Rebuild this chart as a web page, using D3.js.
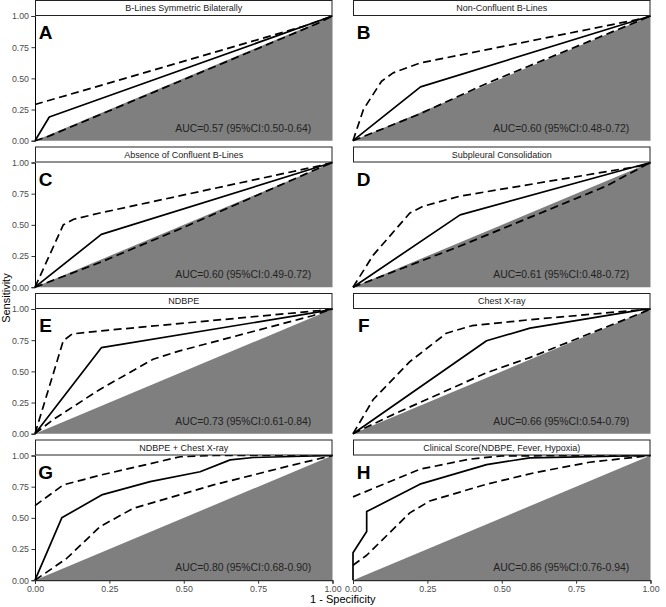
<!DOCTYPE html>
<html>
<head>
<meta charset="utf-8">
<script src="https://cdn.jsdelivr.net/npm/d3@7"></script>
<style>
  html, body { margin: 0; padding: 0; background: #fff; }
  svg { display: block; font-family: "Liberation Sans", Arial, Helvetica, sans-serif; }
</style>
</head>
<body>
<svg id="chart" width="666" height="607"></svg>
<script>
// ---------- data ----------
const panelTitles = [
  "B-Lines Symmetric Bilaterally", "Non-Confluent B-Lines",
  "Absence of Confluent B-Lines", "Subpleural Consolidation",
  "NDBPE", "Chest X-ray",
  "NDBPE + Chest X-ray", "Clinical Score(NDBPE, Fever, Hypoxia)"
];
const panelLetters = ["A", "B", "C", "D", "E", "F", "G", "H"];
const aucLabels = [
  "AUC=0.57 (95%CI:0.50-0.64)", "AUC=0.60 (95%CI:0.48-0.72)",
  "AUC=0.60 (95%CI:0.49-0.72)", "AUC=0.61 (95%CI:0.48-0.72)",
  "AUC=0.73 (95%CI:0.61-0.84)", "AUC=0.66 (95%CI:0.54-0.79)",
  "AUC=0.80 (95%CI:0.68-0.90)", "AUC=0.86 (95%CI:0.76-0.94)"
];
// ROC curves: [1 - specificity, sensitivity]
const rocCurves = [
  [[0,0],[0.048,0.19],[1,1]],
  [[0,0],[0.227,0.432],[1,1]],
  [[0,0],[0.223,0.424],[1,1]],
  [[0,0],[0.36,0.58],[1,1]],
  [[0,0],[0.223,0.69],[0.95,0.975],[1,1]],
  [[0,0],[0.449,0.745],[0.595,0.847],[0.974,0.995],[1,1]],
  [[0,0],[0.09,0.5],[0.224,0.684],[0.387,0.79],[0.555,0.87],[0.656,0.965],[0.734,0.984],[1,1]],
  [[0,0],[0,0.22],[0.046,0.39],[0.046,0.55],[0.225,0.77],[0.449,0.927],[0.594,0.981],[1,1]]
];
const ciUpper = [
  [[0,0.29],[0.9,0.915],[1,1]],
  [[0,0],[0.035,0.25],[0.096,0.477],[0.135,0.544],[0.225,0.623],[0.974,0.98],[1,1]],
  [[0,0],[0.095,0.5],[0.13,0.545],[0.218,0.595],[0.955,0.973],[1,1]],
  [[0,0],[0.068,0.257],[0.191,0.595],[0.236,0.649],[0.359,0.73],[0.985,0.98],[1,1]],
  [[0,0],[0.095,0.745],[0.125,0.8],[0.223,0.825],[0.955,0.987],[1,1]],
  [[0,0],[0.068,0.274],[0.191,0.578],[0.314,0.806],[0.4,0.866],[0.594,0.914],[0.974,0.995],[1,1]],
  [[0,0.598],[0.095,0.764],[0.224,0.845],[0.488,0.99],[0.6,1],[1,1]],
  [[0,0.668],[0.09,0.757],[0.225,0.89],[0.39,0.97],[0.5,0.997],[1,1]]
];
const ciLower = [
  [[0,0],[0.04,0.03],[0.95,0.94],[1,1]],
  [[0,0],[0.22,0.21],[0.45,0.46],[0.97,0.97],[1,1]],
  [[0,0],[0.22,0.2],[0.5,0.48],[0.95,0.95],[1,1]],
  [[0,0],[0.36,0.33],[0.85,0.81],[1,1]],
  [[0,0],[0.061,0.113],[0.218,0.355],[0.397,0.597],[0.486,0.664],[0.933,0.946],[1,1]],
  [[0,0],[0.147,0.167],[0.449,0.489],[0.594,0.61],[0.974,0.973],[1,1]],
  [[0,0],[0.106,0.174],[0.219,0.43],[0.33,0.576],[0.6,0.764],[0.869,0.925],[1,1]],
  [[0,0.12],[0.046,0.2],[0.191,0.54],[0.258,0.635],[0.449,0.77],[0.616,0.865],[0.795,0.946],[1,1]]
];
const tickValues = [0, 0.25, 0.5, 0.75, 1];
const tickLabels = ["0.00", "0.25", "0.50", "0.75", "1.00"];
const xTitle = "1 - Specificity";
const yTitle = "Sensitivity";

// ---------- layout ----------
const colLeft = [35, 353];
const panelW = 297.5;
const plotTop0 = 16, rowStep = 146.5, plotH = 124.7, stripH = 16;
const font = "'Liberation Sans', Arial, Helvetica, sans-serif";

const svg = d3.select("#chart");
const diag = [[0,0],[1,0],[1,1]];

panelTitles.forEach((title, i) => {
  const col = i % 2, row = Math.floor(i / 2);
  const left = colLeft[col];
  const top = plotTop0 + row * rowStep;
  const x = d3.scaleLinear().domain([0, 1]).range([left, left + panelW]);
  const y = d3.scaleLinear().domain([0, 1]).range([top + plotH, top]);
  const line = d3.line().x(d => x(d[0])).y(d => y(d[1]));

  const g = svg.append("g");

  // gray reference triangle below the diagonal
  g.append("path").attr("d", line(diag) + "Z").attr("fill", "#7f7f7f");

  // CI curves
  [ciUpper[i], ciLower[i]].forEach(c => {
    g.append("path").attr("d", line(c)).attr("fill", "none")
      .attr("stroke", "#000").attr("stroke-width", 1.7)
      .attr("stroke-dasharray", "8,4.5").attr("stroke-linejoin", "round");
  });
  // ROC curve
  g.append("path").attr("d", line(rocCurves[i])).attr("fill", "none")
    .attr("stroke", "#000").attr("stroke-width", 1.7).attr("stroke-linejoin", "round");

  // strip
  g.append("rect").attr("x", left + 0.5).attr("y", top - stripH + 0.5)
    .attr("width", panelW - 1).attr("height", stripH - 1)
    .attr("fill", "#fff").attr("stroke", "#222").attr("stroke-width", 1);
  g.append("text").attr("x", left + panelW / 2).attr("y", top - stripH / 2)
    .attr("dy", "0.35em").attr("text-anchor", "middle")
    .attr("font-size", 9).attr("fill", "#1a1a1a").style("font-family", font).text(title);

  // letter
  g.append("text").attr("x", x(0.036)).attr("y", y(0.868)).attr("dy", "0.36em")
    .attr("text-anchor", "middle").attr("font-size", 19).attr("font-weight", "bold")
    .attr("fill", "#000").style("font-family", font).text(panelLetters[i]);

  // AUC label
  g.append("text").attr("x", x(0.70)).attr("y", y(0.10)).attr("dy", "0.36em")
    .attr("text-anchor", "middle").attr("font-size", 10.4).attr("fill", "#222")
    .style("font-family", font).text(aucLabels[i]);

  // axes
  if (col === 0) {
    const ax = g.append("g").attr("transform", `translate(${left},0)`)
      .call(d3.axisLeft(y).tickValues(tickValues).tickFormat((d, k) => tickLabels[k])
        .tickSize(3.5).tickPadding(2.5));
    ax.select(".domain").attr("stroke", "#000").attr("stroke-width", 1);
    ax.selectAll(".tick line").attr("stroke", "#333");
    ax.selectAll("text").attr("fill", "#4d4d4d").attr("font-size", 8.8).style("font-family", font);
  }
  if (row === 3) {
    const ax = g.append("g").attr("transform", `translate(0,${top + plotH})`)
      .call(d3.axisBottom(x).tickValues(tickValues).tickFormat((d, k) => tickLabels[k])
        .tickSize(3.5).tickPadding(2));
    ax.select(".domain").attr("stroke", "#000").attr("stroke-width", 1);
    ax.selectAll(".tick line").attr("stroke", "#333");
    ax.selectAll("text").attr("fill", "#4d4d4d").attr("font-size", 8.8).style("font-family", font);
  }
});

// axis titles
svg.append("text").attr("x", (colLeft[0] + colLeft[1] + panelW) / 2).attr("y", 603)
  .attr("text-anchor", "middle").attr("font-size", 11).attr("fill", "#000")
  .style("font-family", font).text(xTitle);
svg.append("text").attr("transform", `translate(10,${plotTop0 + (3 * rowStep + plotH) / 2}) rotate(-90)`)
  .attr("text-anchor", "middle").attr("font-size", 11).attr("fill", "#000")
  .style("font-family", font).text(yTitle);
</script>
</body>
</html>
